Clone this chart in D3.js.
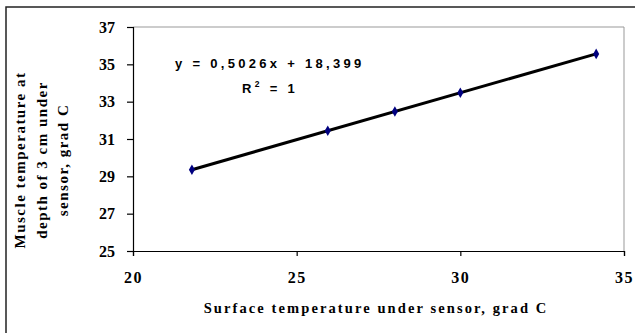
<!DOCTYPE html>
<html><head><meta charset="utf-8">
<script src="https://cdn.jsdelivr.net/npm/d3@7"></script>
<style>body{margin:0;background:#fff;} svg{display:block;}</style>
</head><body>
<svg id="chart" width="635" height="333"></svg>
<script>
const surfaceTemp = [21.8, 25.95, 28.0, 30.0, 34.15];
const muscleTemp = [29.35, 31.44, 32.47, 33.48, 35.56];
const xTicks = [20, 25, 30, 35];
const yTicks = [25, 27, 29, 31, 33, 35, 37];
const slope = 0.5026, intercept = 18.399;
const equationText = "y = 0,5026x + 18,399";
const xTitle = "Surface temperature under sensor, grad C";
const yTitleLines = ["Muscle temperature at", "depth of 3 cm under", "sensor, grad C"];

const svg = d3.select("#chart");
const L = 133, R = 624, T = 27, B = 251;
const x = d3.scaleLinear().domain([20, 35]).range([L, R]);
const y = d3.scaleLinear().domain([25, 37]).range([B, T]);

// outer frame
svg.append("rect").attr("x", 6).attr("y", 7).attr("width", 700).attr("height", 400)
  .attr("fill", "none").attr("stroke", "#222").attr("stroke-width", 1.5);

// plot area border (top/right gray)
svg.append("path").attr("d", `M${L},${T}H${R}V${B}`).attr("fill", "none")
  .attr("stroke", "#999").attr("stroke-width", 1);

const serif = "'Liberation Serif','Times New Roman',serif";
const sans = "'Liberation Sans',Arial,sans-serif";

// axes
const xAxis = svg.append("g").attr("transform", `translate(0,${B})`)
  .call(d3.axisBottom(x).tickValues(xTicks).tickSize(5).tickPadding(16).tickFormat(d3.format("d")));
const yAxis = svg.append("g").attr("transform", `translate(${L},0)`)
  .call(d3.axisLeft(y).tickValues(yTicks).tickSize(6).tickPadding(12).tickFormat(d3.format("d")));
[xAxis, yAxis].forEach(g => {
  g.select(".domain").attr("stroke", "#000").attr("stroke-width", 1.2);
  g.selectAll(".tick line").attr("stroke", "#000").attr("stroke-width", 1.2);
  g.selectAll(".tick text").attr("fill", "#000").style("font-family", serif)
    .style("font-weight", "bold").style("font-size", "16px");
});
xAxis.selectAll(".tick text").style("letter-spacing", "1.5px").attr("dy", "0.71em");

// trend line
const xs = d3.extent(surfaceTemp);
svg.append("line")
  .attr("x1", x(xs[0])).attr("y1", y(slope * xs[0] + intercept))
  .attr("x2", x(xs[1])).attr("y2", y(slope * xs[1] + intercept))
  .attr("stroke", "#000").attr("stroke-width", 3);

// markers
svg.selectAll(".pt").data(surfaceTemp.map((d, i) => [d, muscleTemp[i]])).enter()
  .append("path").attr("class", "pt")
  .attr("d", d3.symbol().type(d3.symbolDiamond).size(32))
  .attr("transform", d => `translate(${x(d[0])},${y(d[1])})`)
  .attr("fill", "#000080");

// equation
svg.append("text").attr("x", 175).attr("y", 68).text(equationText)
  .style("font-family", sans).style("font-weight", "bold").style("font-size", "13px")
  .style("letter-spacing", "3.3px").attr("fill", "#000");
const r2 = svg.append("text").attr("x", 242).attr("y", 93)
  .style("font-family", sans).style("font-weight", "bold").style("font-size", "13px")
  .style("letter-spacing", "3.3px").attr("fill", "#000");
r2.append("tspan").text("R");
r2.append("tspan").attr("dy", -6).style("font-size", "8.5px").text("2");
r2.append("tspan").attr("dy", 6).text(" = 1");

// x title
svg.append("text").attr("x", 376).attr("y", 313).attr("text-anchor", "middle").text(xTitle)
  .style("font-family", serif).style("font-weight", "bold").style("font-size", "14.5px")
  .style("letter-spacing", "2.1px").attr("fill", "#000");

// y title
const yt = svg.append("text").attr("transform", "translate(0,160) rotate(-90)")
  .attr("text-anchor", "middle")
  .style("font-family", serif).style("font-weight", "bold").style("font-size", "15px")
  .style("letter-spacing", "1.5px").attr("fill", "#000");
yTitleLines.forEach((t, i) => {
  yt.append("tspan").attr("x", 0).attr("y", 25 + i * 21.5).text(t);
});
</script>
</body></html>
